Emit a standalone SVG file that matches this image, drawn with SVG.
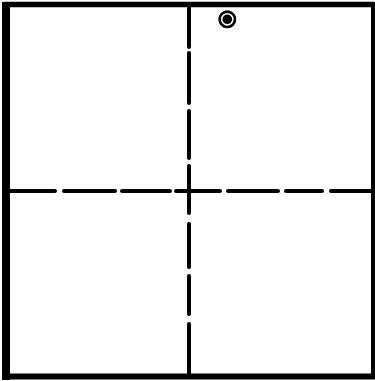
<svg xmlns="http://www.w3.org/2000/svg" width="375" height="381" viewBox="0 0 375 381">
<style>
.frame{fill:none;stroke:#000;stroke-linejoin:round;stroke-linecap:square}
.dash{fill:none;stroke:#000;stroke-width:4;stroke-linecap:round}
</style>
<rect width="375" height="381" fill="#fff"/>
<g id="frame">
<line class="frame" x1="6" y1="6" x2="6" y2="376" stroke-width="8"/>
<line class="frame" x1="6" y1="4.5" x2="372" y2="4.5" stroke-width="5.5"/>
<line class="frame" x1="373" y1="4.5" x2="373" y2="376" stroke-width="4"/>
<line class="frame" x1="6" y1="376.5" x2="373" y2="376.5" stroke-width="6"/>
</g>
<g id="connectors">
<g id="vertical-axis">
<line class="dash" x1="189" y1="6" x2="189" y2="47"/>
<line class="dash" x1="189" y1="53" x2="189" y2="103"/>
<line class="dash" x1="189" y1="111" x2="189" y2="158"/>
<line class="dash" x1="189" y1="166" x2="189" y2="213"/>
<line class="dash" x1="189" y1="224" x2="189" y2="267"/>
<line class="dash" x1="189" y1="276" x2="189" y2="314"/>
<line class="dash" x1="189" y1="324" x2="189" y2="376"/>
</g>
<g id="horizontal-axis">
<line class="dash" x1="10" y1="191" x2="55" y2="191"/>
<line class="dash" x1="64" y1="191" x2="115" y2="191"/>
<line class="dash" x1="122" y1="191" x2="170" y2="191"/>
<line class="dash" x1="176" y1="191" x2="220" y2="191"/>
<line class="dash" x1="228" y1="191" x2="278" y2="191"/>
<line class="dash" x1="286" y1="191" x2="322" y2="191"/>
<line class="dash" x1="331" y1="191" x2="372" y2="191"/>
</g>
</g>
<g id="marker">
<circle cx="227.3" cy="19.3" r="7.7" fill="none" stroke="#000" stroke-width="2.6"/>
<circle cx="227.3" cy="19.3" r="4.8" fill="#000"/>
</g>
</svg>
